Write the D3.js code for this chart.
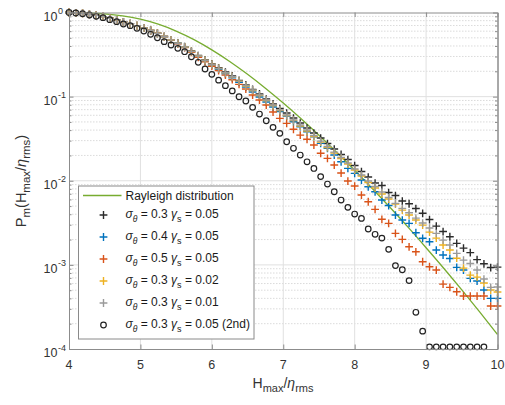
<!DOCTYPE html>
<html>
<head>
<meta charset="utf-8">
<script src="https://cdn.jsdelivr.net/npm/d3@7"></script>
<style>
  body { margin: 0; background: #fff; }
  svg { display: block; font-family: "Liberation Sans", Arial, sans-serif; }
</style>
</head>
<body>
<svg id="chart" width="505" height="405"></svg>
<script>
// x positions shared by every marker series (H_max / eta_rms)
const xs = [4.000, 4.095, 4.190, 4.286, 4.381, 4.476, 4.571, 4.667, 4.762, 4.857,
            4.952, 5.048, 5.143, 5.238, 5.333, 5.429, 5.524, 5.619, 5.714, 5.810,
            5.905, 6.000, 6.095, 6.190, 6.286, 6.381, 6.476, 6.571, 6.667, 6.762,
            6.857, 6.952, 7.048, 7.143, 7.238, 7.333, 7.429, 7.524, 7.619, 7.714,
            7.810, 7.905, 8.000, 8.095, 8.190, 8.286, 8.381, 8.476, 8.571, 8.667,
            8.762, 8.857, 8.952, 9.048, 9.143, 9.238, 9.333, 9.429, 9.524, 9.619,
            9.714, 9.810, 9.905, 10.000];

// Rayleigh distribution curve
const rayleighX = [4, 4.25, 4.5, 4.75, 5, 5.25, 5.5, 5.75, 6, 6.25, 6.5, 6.75, 7,
                   7.25, 7.5, 7.75, 8, 8.25, 8.5, 8.75, 9, 9.25, 9.5, 9.75, 10];
const rayleighP = [0.997, 0.988, 0.964, 0.914, 0.834, 0.727, 0.602, 0.476, 0.360, 0.262,
                   0.1845, 0.126, 0.0838, 0.0545, 0.0347, 0.0217, 0.01333, 0.00804, 0.00477,
                   0.00279, 0.00160, 0.000906, 0.000504, 0.000276, 0.000149];

// sigma_theta = 0.3, gamma_s = 0.05
const sig03g05 = [1.0, 0.992, 0.978, 0.952, 0.924, 0.894, 0.855, 0.819, 0.775, 0.738,
                  0.697, 0.654, 0.611, 0.566, 0.518, 0.473, 0.432, 0.392, 0.348, 0.308,
                  0.273, 0.245, 0.220, 0.196, 0.176, 0.156, 0.1374, 0.1215, 0.1074, 0.0936,
                  0.0817, 0.0722, 0.0638, 0.0556, 0.0485, 0.0423, 0.0369, 0.0322, 0.0277, 0.0238,
                  0.0205, 0.01787, 0.01516, 0.01287, 0.01107, 0.00939, 0.00877, 0.00724, 0.00667, 0.00574,
                  0.00533, 0.00467, 0.0041, 0.00346, 0.00289, 0.00249, 0.00216, 0.0018, 0.00158, 0.0014,
                  0.001156, 0.00103, 0.000929, 0.000941];
// sigma_theta = 0.4, gamma_s = 0.05
const sig04g05 = [1.0, 0.992, 0.978, 0.952, 0.924, 0.894, 0.855, 0.819, 0.775, 0.738,
                  0.697, 0.654, 0.611, 0.566, 0.518, 0.473, 0.428, 0.386, 0.341, 0.300,
                  0.265, 0.237, 0.211, 0.187, 0.167, 0.148, 0.130, 0.1134, 0.0989, 0.0862,
                  0.0752, 0.0665, 0.0588, 0.0503, 0.0439, 0.0382, 0.0334, 0.0278, 0.0243, 0.0202,
                  0.01682, 0.01404, 0.01225, 0.0102, 0.00849, 0.0074, 0.0059, 0.00507, 0.00391, 0.00341,
                  0.00311, 0.00241, 0.00207, 0.00188, 0.0015, 0.00131, 0.00119, 0.000934, 0.000868, 0.000691,
                  0.000642, 0.000502, 0.0004, 0.0004];
// sigma_theta = 0.5, gamma_s = 0.05
const sig05g05 = [1.0, 0.992, 0.978, 0.952, 0.924, 0.894, 0.855, 0.819, 0.775, 0.738,
                  0.697, 0.654, 0.611, 0.566, 0.518, 0.473, 0.425, 0.382, 0.336, 0.294,
                  0.259, 0.230, 0.204, 0.180, 0.159, 0.140, 0.1231, 0.1045, 0.0911, 0.0795,
                  0.0656, 0.0552, 0.0481, 0.0409, 0.0349, 0.0311, 0.0266, 0.0212, 0.01846, 0.01537,
                  0.01235, 0.00992, 0.00865, 0.00676, 0.00563, 0.00457, 0.00348, 0.00311, 0.00237, 0.00201,
                  0.00164, 0.00143, 0.00109, 0.00095, 0.000868, 0.000591, 0.00054, 0.000479, 0.000426, 0.000426,
                  0.000426, 0.000426, 0.000324, 0.000324];
// sigma_theta = 0.3, gamma_s = 0.02
const sig03g02 = [1.0, 0.992, 0.978, 0.952, 0.924, 0.894, 0.855, 0.819, 0.775, 0.738,
                  0.697, 0.654, 0.611, 0.566, 0.518, 0.473, 0.430, 0.389, 0.344, 0.304,
                  0.269, 0.241, 0.216, 0.192, 0.1725, 0.153, 0.1337, 0.1182, 0.1030, 0.0899,
                  0.0784, 0.0684, 0.0596, 0.052, 0.0447, 0.039, 0.0335, 0.0288, 0.0248, 0.0214,
                  0.01837, 0.0158, 0.0134, 0.01137, 0.00952, 0.00819, 0.00695, 0.00606, 0.00528, 0.00448,
                  0.00391, 0.00341, 0.00297, 0.00245, 0.00208, 0.00172, 0.0015, 0.0012, 0.000916, 0.000756,
                  0.000716, 0.000608, 0.000502, 0.000475];
// sigma_theta = 0.3, gamma_s = 0.01
const sig03g01 = [1.0, 0.992, 0.978, 0.952, 0.924, 0.894, 0.855, 0.819, 0.775, 0.738,
                  0.697, 0.654, 0.611, 0.566, 0.518, 0.473, 0.430, 0.389, 0.344, 0.304,
                  0.269, 0.241, 0.216, 0.192, 0.1725, 0.153, 0.1355, 0.1198, 0.1045, 0.0911,
                  0.0795, 0.0693, 0.0604, 0.0527, 0.046, 0.0401, 0.0345, 0.0296, 0.0255, 0.0219,
                  0.0189, 0.01624, 0.01377, 0.01169, 0.00992, 0.00853, 0.00734, 0.00631, 0.00539, 0.0047,
                  0.00416, 0.0036, 0.00314, 0.00274, 0.00237, 0.00197, 0.00172, 0.00137, 0.00114, 0.00104,
                  0.000868, 0.000678, 0.00054, 0.000545];
// sigma_theta = 0.3, gamma_s = 0.05, second order (null = no point)
const sig03g05second = [1.0, 0.986, 0.968, 0.934, 0.901, 0.867, 0.821, 0.777, 0.730, 0.697,
                  0.649, 0.603, 0.551, 0.501, 0.450, 0.411, 0.375, 0.342, 0.298, 0.256,
                  0.213, 0.184, 0.157, 0.135, 0.117, 0.0997, 0.0887, 0.0746, 0.0621, 0.0517,
                  0.0431, 0.0366, 0.0291, 0.0243, 0.0202, 0.0168, 0.0140, 0.0112, 0.00914, 0.0074,
                  0.0059, 0.00483, 0.00402, 0.00357, 0.00267, 0.00231, 0.00208, 0.00153, 0.00098, 0.000875,
                  0.00065, 0.000273, 0.000163, 0.000106, 0.000106, 0.000106, 0.000106, 0.000106, 0.000106, 0.000106,
                  0.000106, 0.000106, null, null];

const xTicks = [4, 5, 6, 7, 8, 9, 10];
const yTickExp = [0, -1, -2, -3, -4];

const legendTheta = ["0.3", "0.4", "0.5", "0.3", "0.3", "0.3"];
const legendGamma = ["0.05", "0.05", "0.05", "0.02", "0.01", "0.05"];
const legendNote = ["", "", "", "", "", " (2nd)"];

const series = [
    { values: sig03g05, color: "#2b2b2b", shape: "plus" },
    { values: sig04g05, color: "#0072BD", shape: "plus" },
    { values: sig05g05, color: "#D95319", shape: "plus" },
    { values: sig03g02, color: "#EDB120", shape: "plus" },
    { values: sig03g01, color: "#9a9a9a", shape: "plus" },
    { values: sig03g05second, color: "#222222", shape: "circle" }
];

const plotL = 69, plotR = 497.5, plotT = 12.5, plotB = 349;
const axisColor = "#8c8c8c";
const textColor = "#333333";

const svg = d3.select("#chart");

const x = d3.scaleLinear().domain([4, 10]).range([plotL, plotR]);
const y = d3.scaleLog().domain([1e-4, 1]).range([plotB, plotT]);

const majorY = yTickExp.map(e => Math.pow(10, e));
const minorY = [];
for (let e = -4; e < 0; e++) {
    for (let m = 2; m <= 9; m++) minorY.push(m * Math.pow(10, e));
}

svg.append("rect")
    .attr("x", plotL).attr("y", plotT)
    .attr("width", plotR - plotL).attr("height", plotB - plotT)
    .attr("fill", "#fff");

// grid
const grid = svg.append("g");
grid.selectAll(".minor")
    .data(minorY)
    .enter().append("line")
    .attr("x1", plotL).attr("x2", plotR)
    .attr("y1", d => y(d)).attr("y2", d => y(d))
    .attr("stroke", "#d2d2d2")
    .attr("stroke-dasharray", "1.5,1.5")
    .attr("stroke-width", 0.8);
grid.selectAll(".majory")
    .data(majorY.slice(1, -1))
    .enter().append("line")
    .attr("x1", plotL).attr("x2", plotR)
    .attr("y1", d => y(d)).attr("y2", d => y(d))
    .attr("stroke", "#e0e0e0")
    .attr("stroke-width", 1);
grid.selectAll(".majorx")
    .data(xTicks.slice(1, -1))
    .enter().append("line")
    .attr("y1", plotT).attr("y2", plotB)
    .attr("x1", d => x(d)).attr("x2", d => x(d))
    .attr("stroke", "#e0e0e0")
    .attr("stroke-width", 1);

// Rayleigh curve
const line = d3.line()
    .x((d, i) => x(rayleighX[i]))
    .y(d => y(d))
    .curve(d3.curveMonotoneX);

svg.append("path")
    .attr("d", line(rayleighP))
    .attr("fill", "none")
    .attr("stroke", "#77AC30")
    .attr("stroke-width", 1.3);

// markers
const plusPath = "M-3.9,0H3.9M0,-3.9V3.9";

series.forEach(s => {
    const pts = s.values
        .map((v, i) => ({ x: xs[i], v: v }))
        .filter(d => d.v !== null);
    const g = svg.append("g");
    if (s.shape === "plus") {
        g.selectAll("path")
            .data(pts)
            .enter().append("path")
            .attr("d", plusPath)
            .attr("transform", d => `translate(${x(d.x)},${y(d.v)})`)
            .attr("stroke", s.color)
            .attr("stroke-width", 1.4)
            .attr("fill", "none");
    } else {
        g.selectAll("circle")
            .data(pts)
            .enter().append("circle")
            .attr("cx", d => x(d.x))
            .attr("cy", d => y(d.v))
            .attr("r", 2.8)
            .attr("stroke", s.color)
            .attr("stroke-width", 1.2)
            .attr("fill", "none");
    }
});

// axes (ticks point inward, box on)
function styleAxis(g) {
    g.select(".domain").attr("stroke", axisColor).attr("stroke-width", 1);
    g.selectAll(".tick line").attr("stroke", axisColor);
    g.selectAll(".tick text").remove();
}

svg.append("g")
    .attr("transform", `translate(0,${plotB})`)
    .call(d3.axisBottom(x).tickValues(xTicks).tickSize(-4.5).tickSizeOuter(0))
    .call(styleAxis);
svg.append("g")
    .attr("transform", `translate(0,${plotT})`)
    .call(d3.axisTop(x).tickValues(xTicks).tickSize(-4.5).tickSizeOuter(0))
    .call(styleAxis);
svg.append("g")
    .attr("transform", `translate(${plotL},0)`)
    .call(d3.axisLeft(y).tickValues(majorY).tickSize(-4.5).tickSizeOuter(0))
    .call(styleAxis);
svg.append("g")
    .attr("transform", `translate(${plotL},0)`)
    .call(d3.axisLeft(y).tickValues(minorY).tickSize(-2.5).tickSizeOuter(0))
    .call(styleAxis);
svg.append("g")
    .attr("transform", `translate(${plotR},0)`)
    .call(d3.axisRight(y).tickValues(majorY).tickSize(-4.5).tickSizeOuter(0))
    .call(styleAxis);
svg.append("g")
    .attr("transform", `translate(${plotR},0)`)
    .call(d3.axisRight(y).tickValues(minorY).tickSize(-2.5).tickSizeOuter(0))
    .call(styleAxis);

// tick labels
svg.append("g").selectAll("text")
    .data(xTicks)
    .enter().append("text")
    .attr("x", d => x(d))
    .attr("y", 369)
    .attr("text-anchor", "middle")
    .attr("font-size", 12.5)
    .attr("fill", textColor)
    .text(d => d);

const yl = svg.append("g").selectAll("g")
    .data(yTickExp)
    .enter().append("g");
yl.append("text")
    .attr("x", 57.5)
    .attr("y", d => y(Math.pow(10, d)) + 8)
    .attr("text-anchor", "end")
    .attr("font-size", 12.5)
    .attr("fill", textColor)
    .text("10");
yl.append("text")
    .attr("x", 58)
    .attr("y", d => y(Math.pow(10, d)) + 1.5)
    .attr("font-size", 9)
    .attr("fill", textColor)
    .text(d => d);

// axis labels
const xl = svg.append("text")
    .attr("x", 283)
    .attr("y", 388)
    .attr("text-anchor", "middle")
    .attr("font-size", 14)
    .attr("fill", textColor);
xl.append("tspan").text("H");
xl.append("tspan").attr("dy", 4).attr("font-size", 11).text("max");
xl.append("tspan").attr("dy", -4).text("/");
xl.append("tspan").attr("font-style", "italic").text("η");
xl.append("tspan").attr("dy", 4).attr("font-size", 11).text("rms");

const ylab = svg.append("text")
    .attr("transform", "translate(26,181) rotate(-90)")
    .attr("text-anchor", "middle")
    .attr("font-size", 14.5)
    .attr("fill", textColor);
ylab.append("tspan").text("P");
ylab.append("tspan").attr("dy", 4).attr("font-size", 11.5).text("m");
ylab.append("tspan").attr("dy", -4).text("(H");
ylab.append("tspan").attr("dy", 4).attr("font-size", 11.5).text("max");
ylab.append("tspan").attr("dy", -4).text("/");
ylab.append("tspan").attr("font-style", "italic").text("η");
ylab.append("tspan").attr("dy", 4).attr("font-size", 11.5).text("rms");
ylab.append("tspan").attr("dy", -4).text(")");

// legend
const legend = svg.append("g");
legend.append("rect")
    .attr("x", 78.5).attr("y", 186)
    .attr("width", 175.5).attr("height", 153)
    .attr("fill", "#fff")
    .attr("stroke", "#8a8a8a")
    .attr("stroke-width", 1);

legend.append("line")
    .attr("x1", 83).attr("x2", 121.5)
    .attr("y1", 195.5).attr("y2", 195.5)
    .attr("stroke", "#77AC30")
    .attr("stroke-width", 1.3);
legend.append("text")
    .attr("x", 125.5).attr("y", 200)
    .attr("font-size", 12)
    .attr("fill", "#1a1a1a")
    .text("Rayleigh distribution");

series.forEach((s, i) => {
    const ry = 215 + i * 22;
    if (s.shape === "plus") {
        legend.append("path")
            .attr("d", plusPath)
            .attr("transform", `translate(103.5,${ry})`)
            .attr("stroke", s.color)
            .attr("stroke-width", 1.4)
            .attr("fill", "none");
    } else {
        legend.append("circle")
            .attr("cx", 103.5).attr("cy", ry).attr("r", 2.8)
            .attr("stroke", s.color)
            .attr("stroke-width", 1.2)
            .attr("fill", "none");
    }
    const t = legend.append("text")
        .attr("x", 125.5).attr("y", ry + 3)
        .attr("font-size", 12)
        .attr("fill", "#1a1a1a");
    t.append("tspan").attr("font-style", "italic").text("σ");
    t.append("tspan").attr("dy", 3.5).attr("font-size", 8.5).attr("font-style", "italic").text("θ");
    t.append("tspan").attr("dy", -3.5).text(" = " + legendTheta[i] + " ");
    t.append("tspan").attr("font-style", "italic").text("γ");
    t.append("tspan").attr("dy", 3.5).attr("font-size", 9).text("s");
    t.append("tspan").attr("dy", -3.5).text(" = " + legendGamma[i] + legendNote[i]);
});
</script>
</body>
</html>
